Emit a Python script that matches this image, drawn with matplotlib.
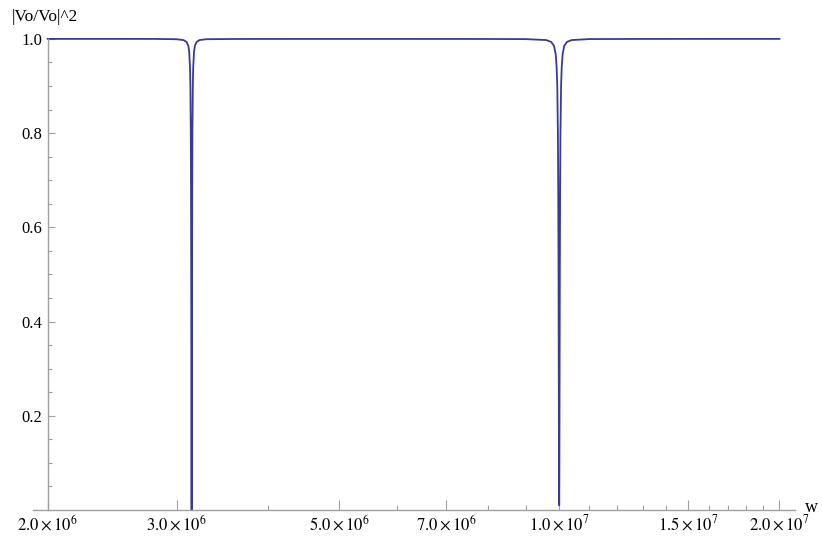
import numpy as np
from matplotlib import pyplot as plt
from matplotlib.ticker import FixedLocator, NullFormatter

plt.rcParams['mathtext.fontset'] = 'stix'
plt.rcParams['font.family'] = ['Liberation Serif', 'DejaVu Serif']

# frequency w and |Vo/Vo|^2 (two narrow notches)
w_flat1 = [2.0e6, 2.5e6, 2.8e6]
mag_flat1 = [1.0, 1.0, 0.9999]
w_dip1 = [2.996e6, 3.066e6, 3.096e6, 3.114e6, 3.122e6, 3.130e6, 3.134e6,
          3.138e6, 3.140e6, 3.142e6, 3.144e6, 3.145e6, 3.146e6, 3.147e6,
          3.148e6, 3.150e6, 3.152e6, 3.154e6, 3.158e6, 3.162e6, 3.170e6,
          3.178e6, 3.196e6, 3.226e6, 3.296e6]
mag_dip1 = [0.9993, 0.9975, 0.9936, 0.985, 0.973, 0.94, 0.90,
            0.80, 0.69, 0.50, 0.20, 0.06, 0.0, 0.06,
            0.20, 0.50, 0.69, 0.80, 0.90, 0.94, 0.973,
            0.985, 0.9936, 0.9975, 0.9993]
w_flat2 = [3.6e6, 4.5e6, 6e6, 8e6, 9.0e6]
mag_flat2 = [0.9998, 0.9999, 0.9999, 0.9998, 0.9995]
w_dip2 = [9.6e6, 9.75e6, 9.84e6, 9.89e6, 9.92e6, 9.94e6, 9.96e6, 9.97e6,
          9.98e6, 9.99e6, 9.995e6, 1.0e7, 1.0005e7, 1.001e7, 1.002e7,
          1.003e7, 1.004e7, 1.006e7, 1.008e7, 1.011e7, 1.016e7, 1.025e7, 1.04e7]
mag_dip2 = [0.9975, 0.9936, 0.985, 0.968, 0.94, 0.90, 0.80, 0.69,
            0.50, 0.20, 0.06, 0.01, 0.06, 0.20, 0.50,
            0.69, 0.80, 0.90, 0.94, 0.968, 0.985, 0.9936, 0.9975]
w_flat3 = [1.1e7, 1.3e7, 1.7e7, 2.0e7]
mag_flat3 = [0.9996, 0.9999, 1.0, 1.0]

w = w_flat1 + w_dip1 + w_flat2 + w_dip2 + w_flat3
mag = mag_flat1 + mag_dip1 + mag_flat2 + mag_dip2 + mag_flat3

major_w = [2e6, 3e6, 5e6, 7e6, 1e7, 1.5e7, 2e7]
major_lbl = [r'$2.0\times10^{6}$', r'$3.0\times10^{6}$', r'$5.0\times10^{6}$',
             r'$7.0\times10^{6}$', r'$1.0\times10^{7}$', r'$1.5\times10^{7}$',
             r'$2.0\times10^{7}$']
minor_w = [4e6, 6e6, 8e6, 9e6, 1.1e7, 1.2e7, 1.3e7, 1.4e7, 1.6e7, 1.7e7, 1.8e7, 1.9e7]
y_major = [0.2, 0.4, 0.6, 0.8, 1.0]
y_lbl = ['0.2', '0.4', '0.6', '0.8', '1.0']
y_minor = [0.05, 0.1, 0.15, 0.25, 0.3, 0.35, 0.45, 0.5, 0.55, 0.65, 0.7, 0.75,
           0.85, 0.9, 0.95]

gray = '#a0a0a0'

fig = plt.figure(figsize=(8.22, 5.42), dpi=100)
ax = fig.add_axes([33/822, 1 - 510/542, (795-33)/822, (510-37)/542])
ax.plot(w, mag, color='#3a3a96', lw=1.3, clip_on=False)

ax.set_xscale('log')
ax.set_xlim(1.91e6, 2.1e7)
ax.set_ylim(0, 1.004)

for s in ['top', 'right']:
    ax.spines[s].set_visible(False)
ax.spines['left'].set_position(('data', 2e6))
ax.spines['left'].set_bounds(0, 1.0)
ax.spines['bottom'].set_position(('data', 0))
for s in ['left', 'bottom']:
    ax.spines[s].set_color(gray)
    ax.spines[s].set_linewidth(1.0)

ax.xaxis.set_major_locator(FixedLocator(major_w))
ax.xaxis.set_minor_locator(FixedLocator(minor_w))
ax.set_xticklabels(major_lbl)
ax.xaxis.set_minor_formatter(NullFormatter())
ax.yaxis.set_major_locator(FixedLocator(y_major))
ax.yaxis.set_minor_locator(FixedLocator(y_minor))
ax.set_yticklabels(y_lbl)

ax.tick_params(axis='x', which='major', direction='in', length=7, width=0.8,
               color=gray, labelsize=12, pad=3)
ax.tick_params(axis='x', which='minor', direction='in', length=3.5, width=0.8, color=gray)
ax.tick_params(axis='y', which='major', direction='in', length=5, width=0.8,
               color=gray, labelsize=12, pad=4)
ax.tick_params(axis='y', which='minor', direction='in', length=3, width=0.8, color=gray)

fig.text(805/822, 1 - 508/542, 'w', fontsize=13, ha='left', va='center')
fig.text(12/822, 1 - 17/542, '|Vo/Vo|^2', fontsize=12.5, ha='left', va='center')

fig.savefig('out.png', dpi=100)
